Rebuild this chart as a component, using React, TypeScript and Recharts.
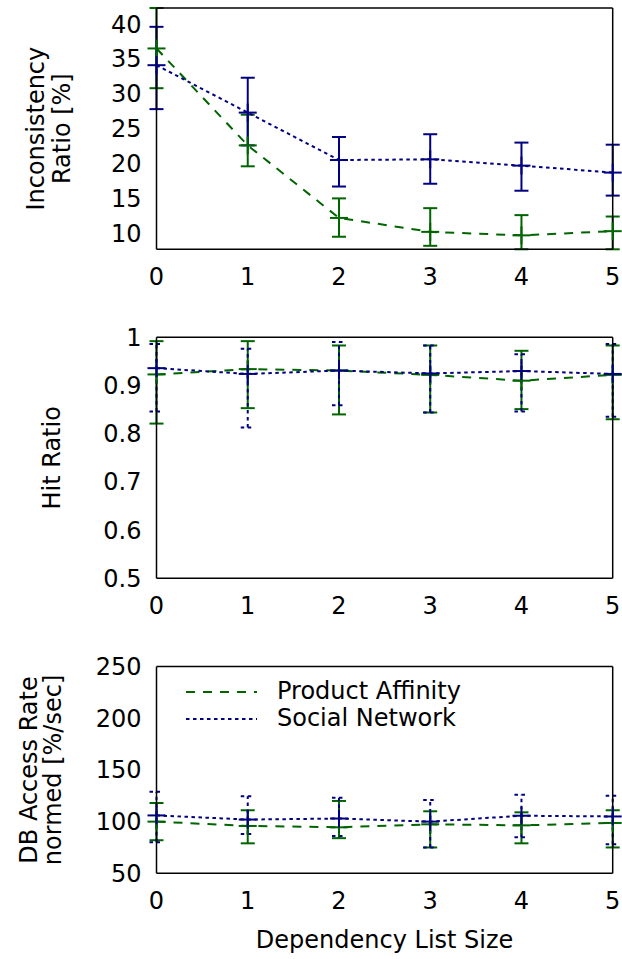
import { LineChart, Line, XAxis, YAxis, ErrorBar, Legend } from "recharts";

const GREEN = "#006400";
const NAVY = "#000080";
const FONT = '"DejaVu Sans", sans-serif';
const FS = 24;

const listSizes = [0, 1, 2, 3, 4, 5];
const seriesNames = ["Product Affinity", "Social Network"];

// Inconsistency Ratio [%]
const incTicks = [10, 15, 20, 25, 30, 35, 40];
const incAffinity = [36.5, 22.6, 12.2, 10.2, 9.7, 10.3];
const incAffinityLow = [30.8, 19.6, 9.5, 8.2, 7.7, 7.7];
const incAffinityHigh = [42.3, 27.0, 15.0, 13.6, 12.6, 12.4];
const incSocial = [34.1, 27.3, 20.5, 20.6, 19.7, 18.7];
const incSocialLow = [27.8, 22.6, 16.7, 17.1, 16.1, 15.4];
const incSocialHigh = [39.6, 32.3, 23.8, 24.2, 23.0, 22.7];

// Hit Ratio
const hitTicks = [0.5, 0.6, 0.7, 0.8, 0.9, 1];
const hitAffinity = [0.923, 0.934, 0.931, 0.922, 0.91, 0.922];
const hitAffinityLow = [0.821, 0.853, 0.84, 0.844, 0.851, 0.83];
const hitAffinityHigh = [0.992, 0.992, 0.983, 0.983, 0.972, 0.983];
const hitSocial = [0.936, 0.924, 0.931, 0.925, 0.93, 0.924];
const hitSocialLow = [0.846, 0.813, 0.859, 0.844, 0.846, 0.835];
const hitSocialHigh = [0.986, 0.976, 0.99, 0.983, 0.965, 0.986];

// DB Access Rate normed [%/sec]
const dbTicks = [50, 100, 150, 200, 250];
const dbAffinity = [100, 95.8, 94.5, 97.4, 96.4, 98.7];
const dbAffinityLow = [82, 79, 84, 75, 79, 75];
const dbAffinityHigh = [118, 111, 120, 110, 109, 111];
const dbSocial = [106, 102, 103, 100, 105.7, 105];
const dbSocialLow = [80, 88, 86, 75, 85, 78];
const dbSocialHigh = [129, 124.5, 123, 121, 126, 125];

function buildRows(pa, paLow, paHigh, sn, snLow, snHigh) {
  return listSizes.map((x, i) => ({
    x,
    pa: pa[i],
    paErr: [pa[i] - paLow[i], paHigh[i] - pa[i]],
    sn: sn[i],
    snErr: [sn[i] - snLow[i], snHigh[i] - sn[i]],
  }));
}

const incRows = buildRows(incAffinity, incAffinityLow, incAffinityHigh, incSocial, incSocialLow, incSocialHigh);
const hitRows = buildRows(hitAffinity, hitAffinityLow, hitAffinityHigh, hitSocial, hitSocialLow, hitSocialHigh);
const dbRows = buildRows(dbAffinity, dbAffinityLow, dbAffinityHigh, dbSocial, dbSocialLow, dbSocialHigh);

const styles = {
  pa: { color: GREEN, dash: "9 8" },
  sn: { color: NAVY, dash: "3.5 3.5" },
};

const cross = (color) => (props) => {
  const { cx, cy, index } = props;
  if (cx == null || cy == null) return <g key={`dot-${index}`} />;
  return (
    <g key={`dot-${index}`}>
      <line x1={cx - 9} y1={cy} x2={cx + 9} y2={cy} stroke={color} strokeWidth={2} />
      <line x1={cx} y1={cy - 9} x2={cx} y2={cy + 9} stroke={color} strokeWidth={2} />
    </g>
  );
};

function YTitle({ viewBox, lines, baselines }: any) {
  const cy = viewBox.y + viewBox.height / 2;
  return (
    <g>
      {lines.map((t, i) => (
        <text
          key={t}
          x={baselines[i]}
          y={cy}
          transform={`rotate(-90 ${baselines[i]} ${cy})`}
          textAnchor="middle"
          fontSize={FS}
          fill="#000"
        >
          {t}
        </text>
      ))}
    </g>
  );
}

function XTitle({ viewBox }: any) {
  return (
    <text x={viewBox.x + viewBox.width / 2} y={viewBox.y + 75} textAnchor="middle" fontSize={FS} fill="#000">
      Dependency List Size
    </text>
  );
}

function LegendBox() {
  const keys = ["pa", "sn"];
  return (
    <div style={{ fontFamily: FONT, fontSize: FS, color: "#000" }}>
      {keys.map((k, i) => (
        <div key={k} style={{ display: "flex", alignItems: "center", height: 27.3 }}>
          <svg width={71} height={6}>
            <line x1={0} y1={3} x2={71} y2={3} stroke={styles[k].color} strokeWidth={2} strokeDasharray={styles[k].dash} />
          </svg>
          <span style={{ marginLeft: 20, lineHeight: "27.3px", whiteSpace: "nowrap" }}>{seriesNames[i]}</span>
        </div>
      ))}
    </div>
  );
}

const tickStroke = { stroke: "#777", strokeWidth: 1 };
const border = { stroke: "#000", strokeWidth: 1.5 };

function Panel({ rows, top, height, mTop, mBottom, domain, yTicks, titleLines, titleX, dottedBars, legend, xTitle }: any) {
  return (
    <div style={{ position: "absolute", left: 0, top }}>
      <LineChart width={622} height={height} data={rows} margin={{ top: mTop, right: 9.3, bottom: mBottom, left: 0 }}>
        <XAxis
          xAxisId="b"
          dataKey="x"
          type="number"
          domain={[0, 5]}
          ticks={listSizes}
          height={40}
          tickSize={0}
          tickMargin={19}
          tickLine={false}
          axisLine={border}
          tick={{ fill: "#000", fontSize: FS }}
          label={xTitle ? <XTitle /> : undefined}
        />
        <XAxis xAxisId="bm" type="number" domain={[0, 5]} ticks={listSizes} allowDataOverflow mirror orientation="bottom" tick={false} tickSize={12} tickLine={tickStroke} axisLine={false} />
        <XAxis xAxisId="t" type="number" domain={[0, 5]} ticks={listSizes} allowDataOverflow mirror orientation="top" tick={false} tickSize={12} tickLine={tickStroke} axisLine={border} />
        <YAxis
          yAxisId="l"
          type="number"
          domain={domain}
          ticks={yTicks}
          width={156.5}
          tickSize={0}
          tickMargin={15}
          tickLine={false}
          axisLine={border}
          tick={{ fill: "#000", fontSize: FS }}
          label={<YTitle lines={titleLines} baselines={titleX} />}
        />
        <YAxis yAxisId="lm" type="number" domain={domain} ticks={yTicks} allowDataOverflow mirror orientation="left" tick={false} tickSize={12} tickLine={tickStroke} axisLine={false} />
        <YAxis yAxisId="r" type="number" domain={domain} ticks={yTicks} allowDataOverflow mirror orientation="right" tick={false} tickSize={12} tickLine={tickStroke} axisLine={border} />
        {legend && (
          <Legend
            layout="horizontal"
            verticalAlign="middle"
            align="center"
            wrapperStyle={{ left: 186, top: 38, width: 320 }}
            content={() => <LegendBox />}
          />
        )}
        <Line
          xAxisId="b"
          yAxisId="l"
          dataKey="pa"
          name={seriesNames[0]}
          type="linear"
          stroke={GREEN}
          strokeWidth={2}
          strokeDasharray={styles.pa.dash}
          dot={cross(GREEN)}
          activeDot={false}
          isAnimationActive={false}
        >
          <ErrorBar dataKey="paErr" direction="y" width={7} stroke={GREEN} strokeWidth={2} isAnimationActive={false} />
        </Line>
        <Line
          xAxisId="b"
          yAxisId="l"
          dataKey="sn"
          name={seriesNames[1]}
          type="linear"
          stroke={NAVY}
          strokeWidth={2}
          strokeDasharray={styles.sn.dash}
          dot={cross(NAVY)}
          activeDot={false}
          isAnimationActive={false}
        >
          <ErrorBar
            dataKey="snErr"
            direction="y"
            width={7}
            stroke={NAVY}
            strokeWidth={2}
            strokeDasharray={dottedBars ? styles.sn.dash : undefined}
            isAnimationActive={false}
          />
        </Line>
      </LineChart>
    </div>
  );
}

export default function App() {
  return (
    <div style={{ position: "absolute", left: 0, top: 0, width: 622, height: 959, background: "#fff", fontFamily: FONT }}>
      <Panel
        rows={incRows}
        top={0}
        height={300}
        mTop={8}
        mBottom={10.7}
        domain={[7.7, 42.3]}
        yTicks={incTicks}
        titleLines={["Inconsistency", "Ratio [%]"]}
        titleX={[44, 70]}
      />
      <Panel
        rows={hitRows}
        top={320}
        height={300}
        mTop={17.3}
        mBottom={1.7}
        domain={[0.5, 1]}
        yTicks={hitTicks}
        titleLines={["Hit Ratio"]}
        titleX={[60]}
        dottedBars
      />
      <Panel
        rows={dbRows}
        top={640}
        height={319}
        mTop={26.6}
        mBottom={45.7}
        domain={[50, 250]}
        yTicks={dbTicks}
        titleLines={["DB Access Rate", "normed [%/sec]"]}
        titleX={[37, 61]}
        dottedBars
        legend
        xTitle
      />
    </div>
  );
}
